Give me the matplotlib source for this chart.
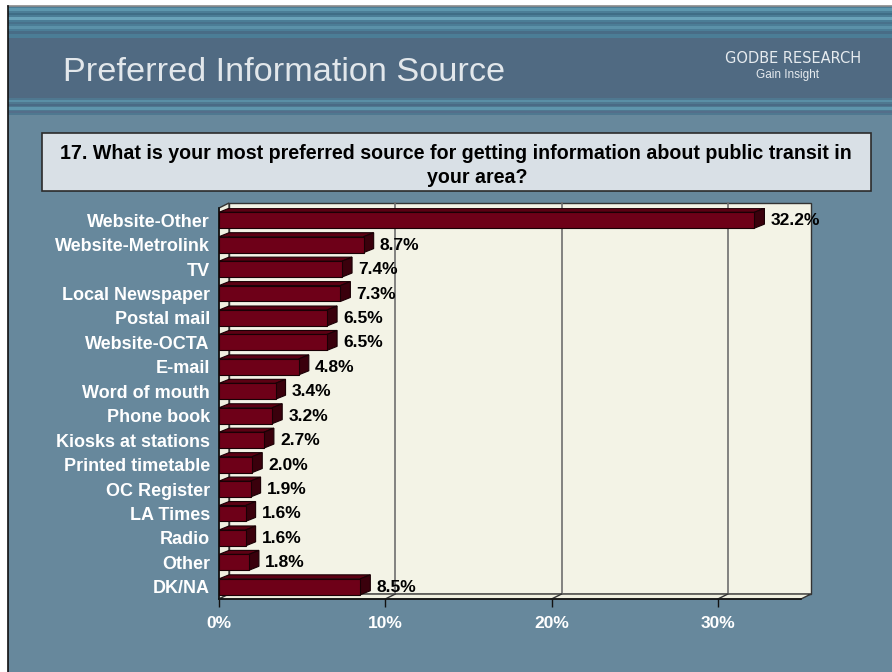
import matplotlib
matplotlib.use("Agg")
import matplotlib.pyplot as plt
from matplotlib.patches import Rectangle, Polygon

# ---- data -------------------------------------------------------------
categories = ["Website-Other", "Website-Metrolink", "TV", "Local Newspaper",
              "Postal mail", "Website-OCTA", "E-mail", "Word of mouth",
              "Phone book", "Kiosks at stations", "Printed timetable",
              "OC Register", "LA Times", "Radio", "Other", "DK/NA"]
values = [32.2, 8.7, 7.4, 7.3, 6.5, 6.5, 4.8, 3.4, 3.2, 2.7, 2.0, 1.9,
          1.6, 1.6, 1.8, 8.5]
x_ticks = [0, 10, 20, 30]
x_tick_labels = ["0%", "10%", "20%", "30%"]
x_max = 35

title = "Preferred Information Source"
question = ["17. What is your most preferred source for getting information about public transit in",
            "your area?"]

# ---- styling ----------------------------------------------------------
W, H = 892, 672
BODY = "#67889c"
BAND = "#506a82"
WALL = "#f3f3e6"
BAR_FRONT = "#6e0018"
BAR_TOP = "#5c0013"
BAR_SIDE = "#3a000c"
SANS = ["Liberation Sans", "DejaVu Sans"]
NARROW = ["Liberation Sans Narrow", "Liberation Sans", "DejaVu Sans"]

fig = plt.figure(figsize=(W / 100, H / 100), dpi=100, facecolor="white")

# slide background in pixel coordinates
bg = fig.add_axes([0, 0, 1, 1])
bg.set_xlim(0, W)
bg.set_ylim(H, 0)
bg.axis("off")
bg.add_patch(Rectangle((8, 6), W, H, facecolor=BODY, edgecolor="none"))

# textured header strips
bg.add_patch(Rectangle((8, 6), W, 32, facecolor="#4b7d96", edgecolor="none"))
bg.add_patch(Rectangle((8, 98), W, 17, facecolor="#4f7890", edgecolor="none"))
streaks = [(8, 11, "#5d97ae"), (13, 15, "#3f6d86"), (17, 20, "#6aa3b9"),
           (22, 24, "#48718b"), (26, 29, "#5b91a8"), (31, 34, "#486c86"),
           (100, 102, "#5a8fa6"), (104, 106, "#4a6a85"), (107, 110, "#5e95ac"),
           (111, 113, "#546e8a")]
for y0, y1, c in streaks:
    bg.add_patch(Rectangle((8, y0), W, y1 - y0, facecolor=c, edgecolor="none"))
bg.add_patch(Rectangle((8, 38), W, 60, facecolor=BAND, edgecolor="none"))

# slide frame
bg.plot([8, W], [6, 6], color="#8a8a8a", lw=1.2)
bg.plot([8, 8], [6, H], color="#111111", lw=1.2)

bg.text(63, 81, title, fontsize=24.7, color="#e2e7eb", family=SANS,
        ha="left", va="baseline")
bg.text(793, 63, "GODBE RESEARCH", fontsize=10.5, color="#e6ebef",
        family=["DejaVu Sans"], ha="center", va="baseline")
bg.text(787, 78, "Gain Insight", fontsize=8.5, color="#e6ebef",
        family=NARROW, ha="center", va="baseline")

# question box
bg.add_patch(Rectangle((42, 133), 829, 58, facecolor="#d9e0e6",
                       edgecolor="#2b2b2b", lw=1.2))
bg.text(456, 159, question[0], fontsize=14.1, fontweight="bold",
        family=SANS, color="black", ha="center", va="baseline")
bg.text(477, 183, question[1], fontsize=14.1, fontweight="bold",
        family=SANS, color="black", ha="center", va="baseline")

# ---- chart (front plane of the 3-D box) -------------------------------
n = len(categories)
ax_l, ax_r, ax_t, ax_b = 219, 801, 208, 599
ax = fig.add_axes([ax_l / W, 1 - ax_b / H, (ax_r - ax_l) / W, (ax_b - ax_t) / H])
ax.set_xlim(0, x_max)
ax.set_ylim(n - 0.5, -0.5)
ax.patch.set_visible(False)

px_x = (ax_r - ax_l) / x_max       # pixels per percent
px_y = (ax_b - ax_t) / n           # pixels per category
DX = 10 / px_x                     # wall depth (right)
DY = 5 / px_y                      # wall depth (up)
bDX = 10 / px_x                    # bar depth
bDY = 4 / px_y

top, bot = -0.5, n - 0.5
# back wall
ax.add_patch(Rectangle((DX, top - DY), x_max, n, facecolor=WALL,
                       edgecolor="#333333", lw=1, clip_on=False, zorder=0))
# left wall
ax.add_patch(Polygon([(0, bot), (0, top), (DX, top - DY), (DX, bot - DY)],
                     closed=True, facecolor="#efefe0", edgecolor="#333333",
                     lw=1, clip_on=False, zorder=0.5))
# floor
ax.add_patch(Polygon([(0, bot), (x_max, bot), (x_max + DX, bot - DY), (DX, bot - DY)],
                     closed=True, facecolor="#efefe0", edgecolor="#333333",
                     lw=1, clip_on=False, zorder=0.5))
# grid lines on back wall and floor
for g in x_ticks[1:]:
    ax.plot([g + DX, g + DX], [top - DY, bot - DY], color="#6e6e6e", lw=1.2,
            clip_on=False, zorder=0.6)
    ax.plot([g, g + DX], [bot, bot - DY], color="#333333", lw=1,
            clip_on=False, zorder=0.6)

# bars
h = 0.65
for i, v in enumerate(values):
    y0, y1 = i - h / 2, i + h / 2
    ax.add_patch(Polygon([(0, y0), (v, y0), (v + bDX, y0 - bDY), (bDX, y0 - bDY)],
                         closed=True, facecolor=BAR_TOP, edgecolor="#1a0005",
                         lw=0.8, zorder=3))
    ax.add_patch(Polygon([(v, y0), (v, y1), (v + bDX, y1 - bDY), (v + bDX, y0 - bDY)],
                         closed=True, facecolor=BAR_SIDE, edgecolor="#1a0005",
                         lw=0.8, zorder=3))
ax.barh(range(n), values, height=h, color=BAR_FRONT, edgecolor="#1a0005",
        lw=0.8, zorder=3)

for i, v in enumerate(values):
    ax.text(v + bDX + 6 / px_x, i + 0.02, f"{v:.1f}%", fontsize=12.5,
            fontweight="bold", family=SANS, color="black",
            ha="left", va="center", zorder=4, clip_on=False)

# axes, ticks and labels
for s in ("top", "right"):
    ax.spines[s].set_visible(False)
for s in ("left", "bottom"):
    ax.spines[s].set_color("#111111")
    ax.spines[s].set_linewidth(1.2)
    ax.spines[s].set_zorder(2)

ax.set_yticks(range(n))
ax.set_yticklabels(categories, fontsize=13, fontweight="bold", family=SANS,
                   color="white")
ax.tick_params(axis="y", length=0, pad=6.5)

ax.set_xticks(x_ticks)
ax.set_xticklabels(x_tick_labels, fontsize=12.5, fontweight="bold",
                   family=NARROW, color="white")
ax.tick_params(axis="x", length=6, width=1, color="#111111", pad=6,
               direction="out")

fig.savefig("out.png", dpi=100, facecolor="white")
